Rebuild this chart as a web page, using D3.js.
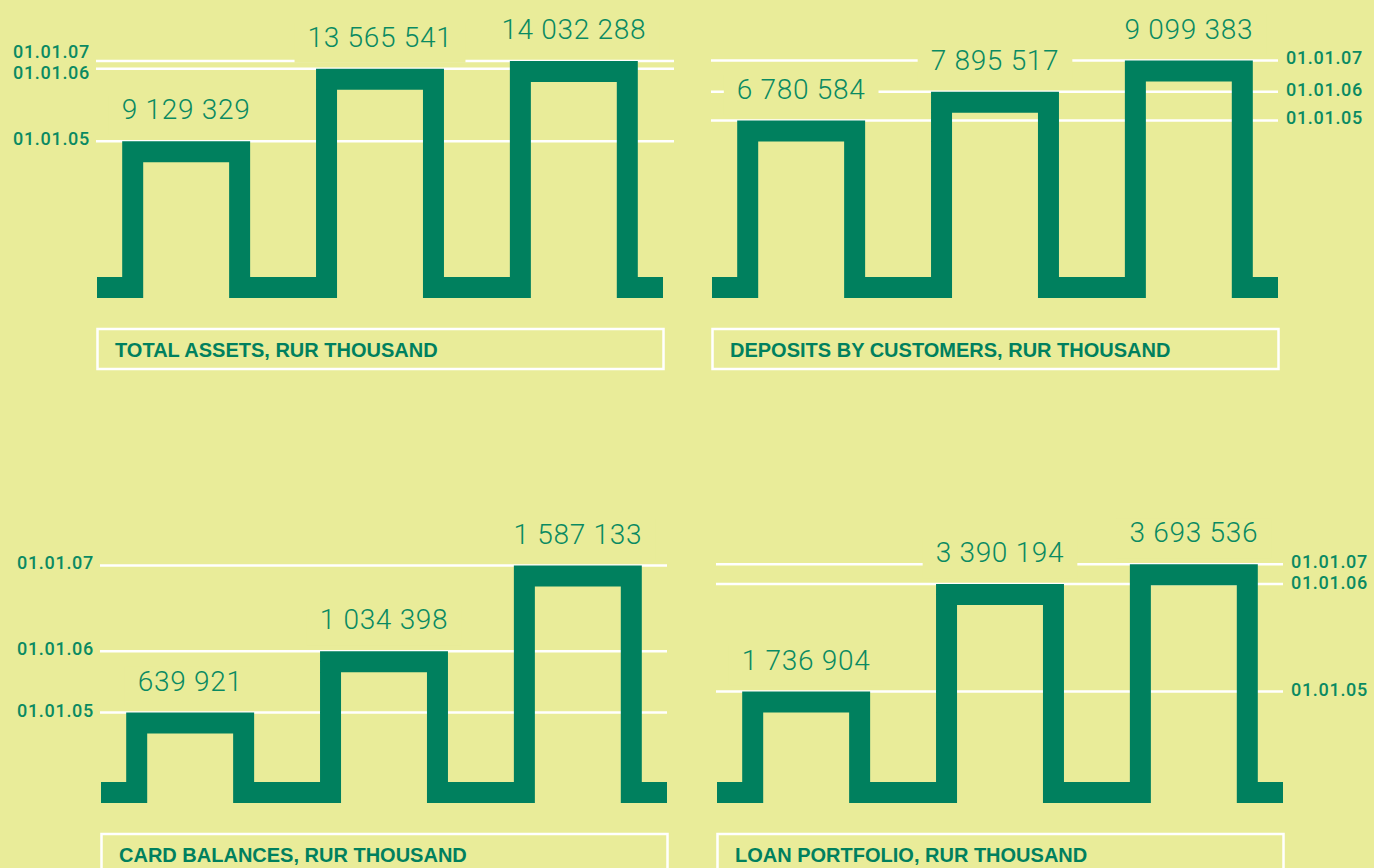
<!DOCTYPE html>
<html>
<head>
  <meta charset="utf-8">
  <title>Key indicators</title>
  <script src="https://d3js.org/d3.v7.min.js"></script>
  <style>
    body { margin: 0; background: #e9ec99; }
    svg { display: block; }
  </style>
</head>
<body>
  <script>
    // dates of the three steps and the four series (RUR thousand)
    var dates = ['01.01.05', '01.01.06', '01.01.07'];
    var totalAssets = [9129329, 13565541, 14032288];
    var deposits = [6780584, 7895517, 9099383];
    var cardBalances = [639921, 1034398, 1587133];
    var loanPortfolio = [1736904, 3390194, 3693536];
    var titles = [
      'TOTAL ASSETS, RUR THOUSAND',
      'DEPOSITS BY CUSTOMERS, RUR THOUSAND',
      'CARD BALANCES, RUR THOUSAND',
      'LOAN PORTFOLIO, RUR THOUSAND'
    ];

    var green = '#00805e';
    var textGreen = '#0a8a62';
    var bg = '#e9ec99';
    var sw = 21, half = sw / 2;
    var panelWidth = 566;

    // layout only: where each panel sits and how its value scale runs
    var panels = [
      { values: totalAssets, title: titles[0], x0: 97, base: 298, zeroY: 291, topY: 61, side: 'left', ext: 11 },
      { values: deposits, title: titles[1], x0: 712, base: 298, zeroY: 296, topY: 60.5, side: 'right', ext: 0 },
      { values: cardBalances, title: titles[2], x0: 101, base: 803, zeroY: 812, topY: 565.5, side: 'left', ext: 0 },
      { values: loanPortfolio, title: titles[3], x0: 717, base: 803, zeroY: 804.6, topY: 564.3, side: 'right', ext: 0 }
    ];

    var fmt = d3.formatLocale({ decimal: ',', thousands: ' ', grouping: [3], currency: ['', ''] }).format(',d');

    var svg = d3.select('body').append('svg')
      .attr('width', 1374)
      .attr('height', 868);

    svg.append('rect')
      .attr('width', 1374)
      .attr('height', 868)
      .attr('fill', bg);

    panels.forEach(function(p) {
      var g = svg.append('g');
      var x = d3.scaleBand()
        .domain(dates)
        .range([p.x0, p.x0 + panelWidth])
        .paddingInner(0.34)
        .paddingOuter(0.13);
      var y = d3.scaleLinear()
        .domain([0, d3.max(p.values)])
        .range([p.zeroY, p.topY]);

      var gGrid = g.append('g');
      var gKnock = g.append('g');
      var gPath = g.append('g');
      var gText = g.append('g');

      // white reference lines, one per date
      gGrid.selectAll('line')
        .data(p.values)
        .enter()
        .append('line')
        .attr('x1', p.x0 - 1)
        .attr('x2', p.x0 + panelWidth + p.ext)
        .attr('y1', function(d) { return y(d); })
        .attr('y2', function(d) { return y(d); })
        .attr('stroke', '#ffffff')
        .attr('stroke-width', 2.5);

      // date labels, spread apart when two lines are close
      var ly = p.values.map(function(d) { return y(d) - 2.5; });
      var order = d3.range(ly.length).sort(function(a, b) { return ly[a] - ly[b]; });
      for (var k = 0; k < order.length - 1; k++) {
        var a = order[k], b = order[k + 1];
        var lack = 21 - (ly[b] - ly[a]);
        if (lack > 0) { ly[a] -= lack / 2; ly[b] += lack / 2; }
      }
      gText.selectAll('text.date')
        .data(dates)
        .enter()
        .append('text')
        .attr('class', 'date')
        .attr('x', p.side === 'left' ? p.x0 - 7 : p.x0 + panelWidth + p.ext + 8)
        .attr('y', function(d, i) { return ly[i]; })
        .attr('dy', '0.36em')
        .attr('text-anchor', p.side === 'left' ? 'end' : 'start')
        .style('font-family', 'Roboto, sans-serif')
        .style('font-weight', 500)
        .style('font-size', '18px')
        .style('letter-spacing', '0.7px')
        .attr('fill', textGreen)
        .text(function(d) { return d; });

      // step outline
      var bw = x.bandwidth();
      var bc = p.base - half;
      var pts = [[p.x0, bc]];
      dates.forEach(function(d, i) {
        var left = x(d) + half, right = x(d) + bw - half, top = y(p.values[i]) + half;
        pts.push([left, bc], [left, top], [right, top], [right, bc]);
      });
      pts.push([p.x0 + panelWidth, bc]);
      gPath.append('path')
        .attr('d', d3.line()(pts))
        .attr('fill', 'none')
        .attr('stroke', green)
        .attr('stroke-width', sw)
        .attr('stroke-linejoin', 'miter')
        .attr('stroke-linecap', 'butt');

      // value labels with a background patch that cuts the lines
      var vals = gText.selectAll('text.value')
        .data(p.values)
        .enter()
        .append('text')
        .attr('class', 'value')
        .attr('x', function(d, i) { return x(dates[i]) + bw / 2; })
        .attr('y', function(d) { return y(d) - 22; })
        .attr('text-anchor', 'middle')
        .style('font-family', 'Roboto, sans-serif')
        .style('font-weight', 300)
        .style('font-size', '28px')
        .style('letter-spacing', '0.7px')
        .attr('fill', textGreen)
        .text(function(d) { return fmt(d); });
      vals.each(function() {
        var bb = this.getBBox();
        gKnock.append('rect')
          .attr('x', bb.x - 13)
          .attr('y', bb.y + 2)
          .attr('width', bb.width + 26)
          .attr('height', bb.height + 7)
          .attr('fill', bg);
      });

      // title box
      g.append('rect')
        .attr('x', p.x0 + 0.5)
        .attr('y', p.base + 31)
        .attr('width', panelWidth)
        .attr('height', 40)
        .attr('fill', 'none')
        .attr('stroke', '#ffffff')
        .attr('stroke-width', 2.5);
      g.append('text')
        .attr('x', p.x0 + 18)
        .attr('y', p.base + 59)
        .style('font-family', '"Liberation Sans", Arial, sans-serif')
        .style('font-weight', 700)
        .style('font-size', '20px')
        .attr('fill', green)
        .text(p.title);
    });
  </script>
</body>
</html>
